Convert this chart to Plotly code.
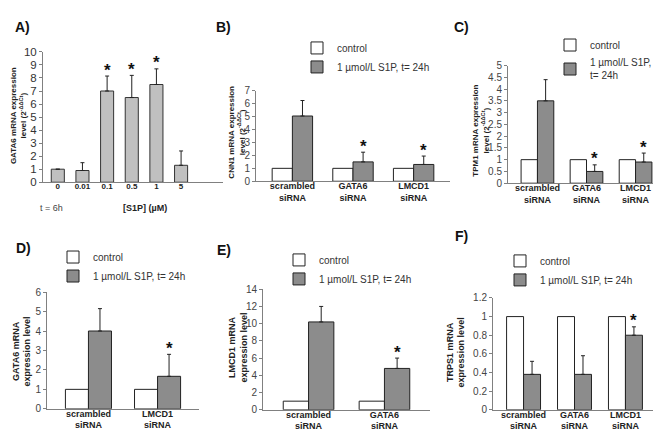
import plotly.graph_objects as go

FONT = "Liberation Sans, Arial, sans-serif"
W, H = 661, 435
GRAY_A = "#c0c0c0"
GRAY = "#8c8c8c"
TICKC = "#444444"
AXC = "#808080"

# ---------------- data ----------------
# Panel A
a_conc = ["0", "0.01", "0.1", "0.5", "1", "5"]
a_vals = [1.0, 0.9, 7.0, 6.5, 7.5, 1.3]
a_err = [None, 0.6, 1.15, 1.7, 1.2, 1.1]
a_sig = [False, False, True, True, True, False]

groups3 = ["scrambled<br>siRNA", "GATA6<br>siRNA", "LMCD1<br>siRNA"]
# Panel B (CNN1)
b_ctrl = [1, 1, 1]
b_s1p = [5.05, 1.5, 1.3]
b_err = [1.2, 0.75, 0.65]
b_sig = [False, True, True]
# Panel C (TPM1)
c_ctrl = [1, 1, 1]
c_s1p = [3.5, 0.5, 0.9]
c_err = [0.9, 0.28, 0.38]
c_sig = [False, True, True]
# Panel D (GATA6)
d_groups = ["scrambled<br>siRNA", "LMCD1<br>siRNA"]
d_ctrl = [1, 1]
d_s1p = [4.0, 1.67]
d_err = [1.15, 1.13]
d_sig = [False, True]
# Panel E (LMCD1)
e_groups = ["scrambled<br>siRNA", "GATA6<br>siRNA"]
e_ctrl = [1, 1]
e_s1p = [10.2, 4.8]
e_err = [1.8, 1.2]
e_sig = [False, True]
# Panel F (TRPS1)
f_groups = groups3
f_ctrl = [1, 1, 1]
f_s1p = [0.38, 0.38, 0.8]
f_err = [0.14, 0.2, 0.09]
f_sig = [False, False, True]

ctrl_name = "control"
s1p_name = "1 µmol/L S1P, t= 24h"
s1p_name_c = "1 µmol/L S1P,<br>t= 24h"


def px(x):
    return x / W


def py(y):
    return 1 - y / H


fig = go.Figure()
annotations = []
layout = {}

panels = {
    "A": dict(n="", xd=(35, 215), yd=(173, 39), ymax=10, dtick=1, xr=(-0.6, 6.7), tfs=11.5),
    "B": dict(n="2", xd=(248, 442), yd=(172, 79), ymax=7, dtick=1, xr=(-0.6, 2.6), tfs=10),
    "C": dict(n="3", xd=(500, 657), yd=(174, 53), ymax=5, dtick=0.5, xr=(-0.6, 2.6), tfs=10),
    "D": dict(n="4", xd=(39, 191), yd=(406, 286), ymax=6, dtick=1, xr=(-0.6, 1.6), tfs=10),
    "E": dict(n="5", xd=(255, 422), yd=(407, 283), ymax=14, dtick=2, xr=(-0.6, 1.6), tfs=10),
    "F": dict(n="6", xd=(485, 648), yd=(407, 292), ymax=1.2, dtick=0.2, xr=(-0.6, 2.6), tfs=10),
}

cats = {"A": a_conc, "B": groups3, "C": groups3, "D": d_groups, "E": e_groups, "F": f_groups}

for key, p in panels.items():
    n = p["n"]
    xa = "xaxis" + n
    ya = "yaxis" + n
    c = cats[key]
    layout[xa] = dict(
        domain=[px(p["xd"][0]), px(p["xd"][1])],
        anchor="y" + n,
        range=list(p["xr"]),
        tickmode="array",
        tickvals=list(range(len(c))),
        ticktext=c,
        showline=True, linecolor=AXC, linewidth=1,
        ticks="", showgrid=False, zeroline=False,
        ticklabelstandoff=-4,
        tickfont=dict(family=FONT, size=8 if key == "A" else 9, color="#222222", weight="bold"),
        fixedrange=True,
    )
    layout[ya] = dict(
        domain=[py(p["yd"][0]), py(p["yd"][1])],
        anchor="x" + n,
        range=[0, p["ymax"]],
        tickmode="linear", tick0=0, dtick=p["dtick"],
        showline=True, linecolor=AXC, linewidth=1,
        ticks="outside", ticklen=3, tickcolor=AXC,
        showgrid=False, zeroline=False,
        tickfont=dict(family=FONT, size=p["tfs"], color="#333333" if key == "A" else TICKC),
        fixedrange=True,
    )

# ---------- Panel A bars ----------
fig.add_bar(
    x=list(range(len(a_conc))), y=a_vals, width=0.53,
    marker=dict(color=GRAY_A, line=dict(color="#333333", width=1)),
    error_y=dict(type="data", symmetric=False, array=a_err,
                 arrayminus=[0] * len(a_vals), color="#222222", thickness=1, width=2),
    showlegend=False, xaxis="x", yaxis="y",
)
for i, s in enumerate(a_sig):
    if s:
        annotations.append(dict(x=i, y=a_vals[i] + a_err[i], xref="x", yref="y",
                                text="*", showarrow=False, yanchor="middle", yshift=6,
                                font=dict(family=FONT, size=17, color="#111111", weight="bold")))


def add_pair(key, ctrl, s1p, err, sig, legend, sname):
    n = panels[key]["n"]
    xs = list(range(len(ctrl)))
    fig.add_bar(
        x=xs, y=ctrl, width=1 / 3, offset=-1 / 3, name=ctrl_name,
        marker=dict(color="white", line=dict(color="#222222", width=1)),
        xaxis="x" + n, yaxis="y" + n, legend=legend, showlegend=True,
    )
    fig.add_bar(
        x=xs, y=s1p, width=1 / 3, offset=0, name=sname,
        marker=dict(color=GRAY, line=dict(color="#222222", width=1)),
        error_y=dict(type="data", symmetric=False, array=err,
                     arrayminus=[0] * len(err), color="#222222", thickness=1, width=2),
        xaxis="x" + n, yaxis="y" + n, legend=legend, showlegend=True,
    )
    for i, s in enumerate(sig):
        if s:
            annotations.append(dict(x=i + 1 / 6, y=s1p[i] + err[i], xref="x" + n, yref="y" + n,
                                    text="*", showarrow=False, yanchor="middle", yshift=6,
                                    font=dict(family=FONT, size=17, color="#111111", weight="bold")))


add_pair("B", b_ctrl, b_s1p, b_err, b_sig, "legend", s1p_name)
add_pair("C", c_ctrl, c_s1p, c_err, c_sig, "legend2", s1p_name_c)
add_pair("D", d_ctrl, d_s1p, d_err, d_sig, "legend3", s1p_name)
add_pair("E", e_ctrl, e_s1p, e_err, e_sig, "legend4", s1p_name)
add_pair("F", f_ctrl, f_s1p, f_err, f_sig, "legend5", s1p_name)

leg_common = dict(bgcolor="rgba(0,0,0,0)", borderwidth=0, xanchor="left", yanchor="top",
                  font=dict(family=FONT, size=10, color="#333333"), tracegroupgap=0,
                  itemclick=False, itemdoubleclick=False)
legend_pos = {"legend": (289, 20), "legend2": (542, 17), "legend3": (45, 235),
              "legend4": (271, 238), "legend5": (492, 239)}
for lg, (lx, ly) in legend_pos.items():
    layout[lg] = dict(leg_common, x=px(lx), y=py(ly))

# panel labels
for lab, (lx, ly) in {"A)": (14, 13), "B)": (215, 13), "C)": (453, 13),
                      "D)": (15, 241), "E)": (216, 243), "F)": (453, 228)}.items():
    annotations.append(dict(x=px(lx), y=py(ly), xref="paper", yref="paper", text=lab,
                            showarrow=False, xanchor="center", yanchor="middle",
                            font=dict(family=FONT, size=14, color="#111111", weight="bold")))

# axis titles (rotated)
ytitles = [
    ("GATA6 mRNA expression<br>level (2<sup>-ΔΔCt</sup>)", 10, 105, 8),
    ("CNN1 mRNA expression<br>level (2<sup>-ΔΔCt</sup>)", 229, 122, 8),
    ("TPM1 mRNA expression<br>level (2<sup>-ΔΔCt</sup>)", 473, 120, 8),
    ("GATA6 mRNA<br>expression level", 14, 347, 9),
    ("LMCD1 mRNA<br>expression level", 230, 343, 9),
    ("TRPS1 mRNA<br>expression level", 448, 348, 9),
]
for t, tx, ty, fs in ytitles:
    annotations.append(dict(x=px(tx), y=py(ty), xref="paper", yref="paper", text=t,
                            showarrow=False, textangle=-90, xanchor="center", yanchor="middle",
                            font=dict(family=FONT, size=fs, color="#222222", weight="bold")))

# Panel A extra x labels
annotations.append(dict(x=px(30), y=py(199), xref="paper", yref="paper", text="t = 6h",
                        showarrow=False, font=dict(family=FONT, size=9, color="#444444")))
annotations.append(dict(x=px(113), y=py(199), xref="paper", yref="paper", text="[S1P] (µM)",
                        showarrow=False, font=dict(family=FONT, size=9, color="#222222", weight="bold")))

fig.update_layout(
    width=W, height=H, margin=dict(l=0, r=0, t=0, b=0),
    paper_bgcolor="white", plot_bgcolor="white",
    barmode="overlay",
    annotations=annotations,
    font=dict(family=FONT),
    **layout,
)

fig.write_html("out.html")
